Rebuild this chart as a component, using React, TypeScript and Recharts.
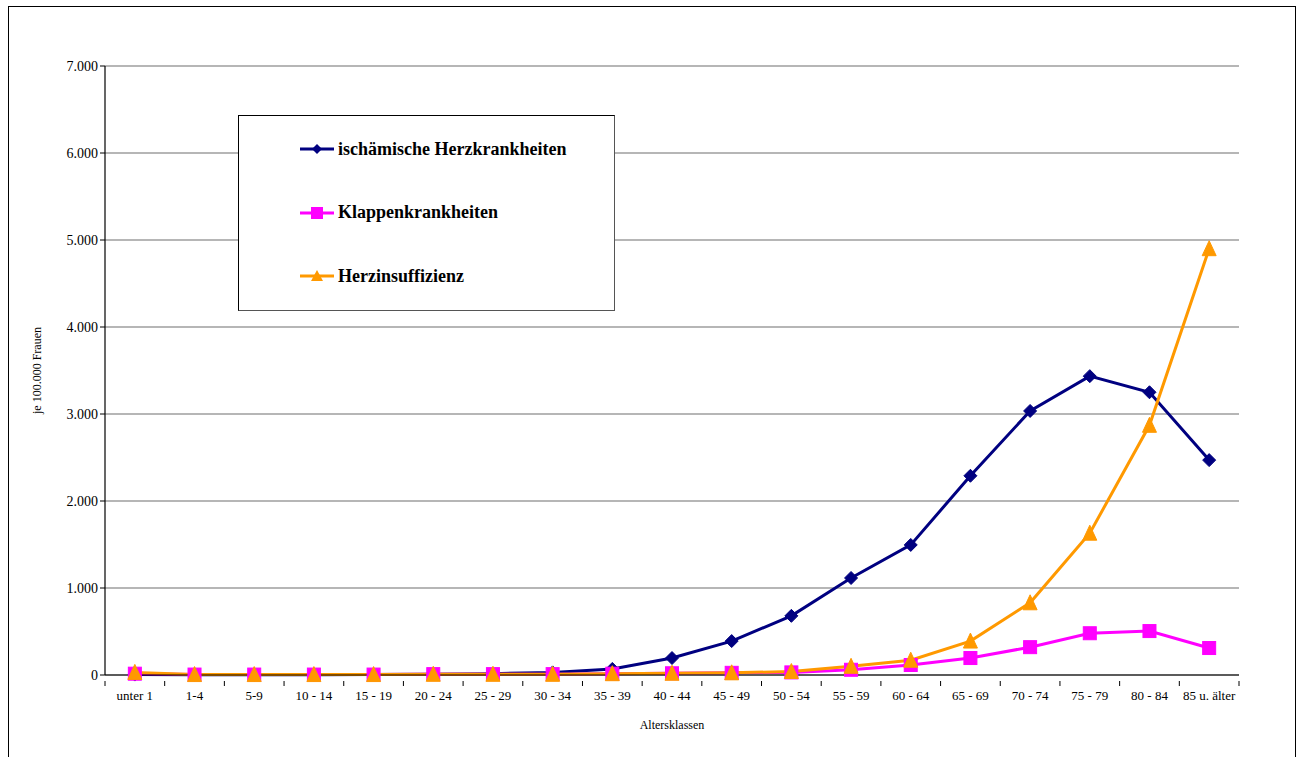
import React from "react";
import { LineChart, Line, XAxis, YAxis, CartesianGrid } from "recharts";

const categories = ["unter 1", "1-4", "5-9", "10 - 14", "15 - 19", "20 - 24", "25 - 29", "30 - 34", "35 - 39", "40 - 44", "45 - 49", "50 - 54", "55 - 59", "60 - 64", "65 - 69", "70 - 74", "75 - 79", "80 - 84", "85 u. älter"];
const ischaemisch = [5, 2, 2, 3, 5, 10, 15, 30, 70, 195, 390, 680, 1115, 1495, 2290, 3035, 3435, 3250, 2470];
const klappen = [15, 5, 5, 5, 5, 10, 10, 10, 15, 20, 25, 30, 60, 115, 195, 320, 480, 505, 310];
const herzinsuff = [30, 5, 5, 5, 5, 8, 8, 8, 15, 20, 25, 40, 100, 170, 390, 830, 1630, 2870, 4900];
const yTicks = [0, 1000, 2000, 3000, 4000, 5000, 6000, 7000];

const seriesNames = ["ischämische Herzkrankheiten", "Klappenkrankheiten", "Herzinsuffizienz"];
const seriesColors = ["#000080", "#FF00FF", "#FF9900"];

const data = categories.map((c, i) => ({
  cat: c,
  isch: ischaemisch[i],
  klap: klappen[i],
  herz: herzinsuff[i],
}));

const W = 1298;
const H = 757;
const Y_AXIS_W = 80;
const M = { top: 66, right: 59, left: 25, bottom: 22 };
const PLOT_W = W - M.left - Y_AXIS_W - M.right;
const HALF_BAND = PLOT_W / categories.length / 2;

const fmt = (v: number) => v.toLocaleString("de-DE");
const FONT = "'Liberation Serif', 'Times New Roman', serif";

const Diamond = (props: any) => {
  const { cx, cy } = props;
  if (cx == null || cy == null) return null;
  const r = 6.5;
  return <polygon points={`${cx},${cy - r} ${cx + r},${cy} ${cx},${cy + r} ${cx - r},${cy}`} fill="#000080" stroke="#000080" />;
};
const Square = (props: any) => {
  const { cx, cy } = props;
  if (cx == null || cy == null) return null;
  const r = 6.5;
  return <rect x={cx - r} y={cy - r} width={2 * r} height={2 * r} fill="#FF00FF" stroke="#FF00FF" />;
};
const Triangle = (props: any) => {
  const { cx, cy } = props;
  if (cx == null || cy == null) return null;
  const r = 7;
  return <polygon points={`${cx},${cy - r - 1} ${cx + r},${cy + r} ${cx - r},${cy + r}`} fill="#FF9900" stroke="#FF9900" />;
};

const XTick = (props: any) => {
  const { x, y, payload, index } = props;
  const last = index === categories.length - 1;
  return (
    <g>
      <line x1={x - HALF_BAND} x2={x - HALF_BAND} y1={y} y2={y + 5} stroke="#000" />
      {last && <line x1={x + HALF_BAND} x2={x + HALF_BAND} y1={y} y2={y + 5} stroke="#000" />}
      <text x={x} y={y + 19} textAnchor="middle" fontSize={13} fontFamily={FONT} fill="#000">
        {payload.value}
      </text>
    </g>
  );
};

const LegendIcon = ({ idx }: { idx: number }) => {
  const c = seriesColors[idx];
  return (
    <svg width={36} height={16} style={{ display: "block" }}>
      <line x1={0} x2={34} y1={8} y2={8} stroke={c} strokeWidth={3} />
      {idx === 0 && <polygon points="17,3 22,8 17,13 12,8" fill={c} />}
      {idx === 1 && <rect x={11} y={2} width={12} height={12} fill={c} />}
      {idx === 2 && <polygon points="17,2 23,13 11,13" fill={c} />}
    </svg>
  );
};

export default function App() {
  return (
    <div style={{ position: "absolute", left: 0, top: 0, width: W, height: H, overflow: "hidden", background: "#fff" }}>
      <div
        style={{
          position: "absolute",
          left: 8,
          top: 6,
          width: 1288,
          height: 751,
          boxSizing: "border-box",
          borderLeft: "1px solid #000",
          borderTop: "1px solid #000",
          borderRight: "1px solid #000",
        }}
      />
      <div style={{ position: "absolute", left: 0, top: 0 }}>
        <LineChart width={W} height={H} data={data} margin={M}>
          <CartesianGrid vertical={false} stroke="#6e6e6e" strokeWidth={1.2} yAxisId="left" />
          <XAxis
            dataKey="cat"
            yAxisId="left"
            interval={0}
            tickLine={false}
            tickMargin={0}
            padding={{ left: HALF_BAND, right: HALF_BAND }}
            axisLine={{ stroke: "#000", strokeWidth: 1.2 }}
            tick={<XTick />}
            height={60}
            label={{ value: "Altersklassen", position: "insideBottom", offset: 6, fontSize: 12, fontFamily: FONT, fill: "#000" }}
          />
          <YAxis
            yAxisId="left"
            width={Y_AXIS_W}
            domain={[0, 7000]}
            ticks={yTicks}
            tickFormatter={fmt}
            tick={{ fontSize: 14, fontFamily: FONT, fill: "#000" }}
            tickLine={{ stroke: "#000" }}
            tickSize={5}
            axisLine={{ stroke: "#000", strokeWidth: 1.2 }}
            interval={0}
            label={{ value: "je 100.000 Frauen", angle: -90, position: "insideLeft", offset: 12, fontSize: 12, fontFamily: FONT, fill: "#000", style: { textAnchor: "middle" } }}
          />
          <YAxis yAxisId="right" orientation="right" width={0} tick={false} tickLine={false} axisLine={{ stroke: "#c0c0c0", strokeWidth: 1.5 }} domain={[0, 7000]} />
          <Line yAxisId="left" type="linear" dataKey="isch" name={seriesNames[0]} stroke="#000080" strokeWidth={3} dot={<Diamond />} isAnimationActive={false} />
          <Line yAxisId="left" type="linear" dataKey="klap" name={seriesNames[1]} stroke="#FF00FF" strokeWidth={3} dot={<Square />} isAnimationActive={false} />
          <Line yAxisId="left" type="linear" dataKey="herz" name={seriesNames[2]} stroke="#FF9900" strokeWidth={3} dot={<Triangle />} isAnimationActive={false} />
        </LineChart>
      </div>
      <div
        style={{
          position: "absolute",
          left: 238,
          top: 115,
          width: 377,
          height: 196,
          boxSizing: "border-box",
          border: "1px solid #000",
          borderRightColor: "#555",
          borderBottomColor: "#555",
          background: "#fff",
          fontFamily: FONT,
          fontWeight: "bold",
          fontSize: 18,
        }}
      >
        {seriesNames.map((n, i) => (
          <div key={n} style={{ position: "absolute", left: 61, top: 24 + i * 63.5, display: "flex", alignItems: "center", height: 18, whiteSpace: "nowrap" }}>
            <LegendIcon idx={i} />
            <span style={{ marginLeft: 2 }}>{n}</span>
          </div>
        ))}
      </div>
    </div>
  );
}
